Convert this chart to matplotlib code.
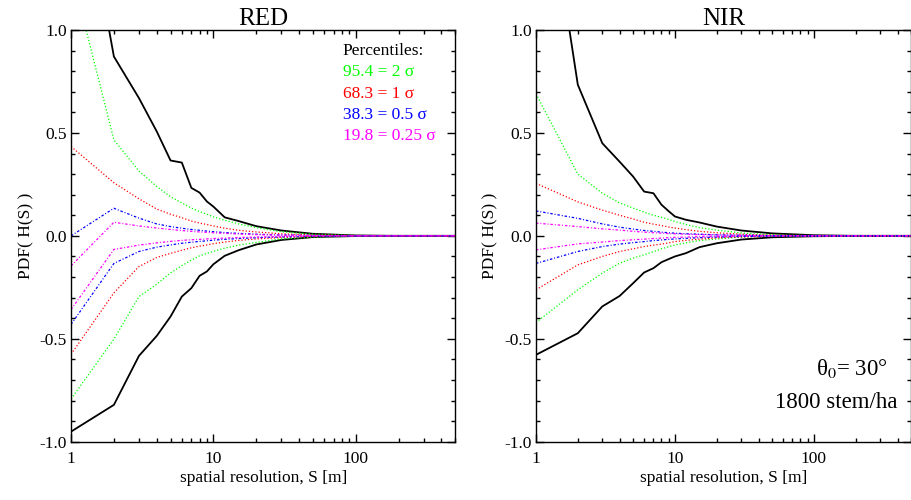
import numpy as np
import matplotlib
matplotlib.use("Agg")
import matplotlib.pyplot as plt
from matplotlib.ticker import FixedLocator, FormatStrFormatter, NullFormatter

plt.rcParams["font.family"] = ["Liberation Serif", "DejaVu Serif"]
plt.rcParams["mathtext.fontset"] = "stix"
plt.rcParams["axes.unicode_minus"] = False

# spatial resolution S [m]
S = [1, 2, 3, 4, 5, 6, 7, 8, 9, 10, 12, 15, 20, 30, 50, 100, 200, 500]

# RED panel percentile envelopes
red_black_hi = [2.02, 0.871, 0.669, 0.507, 0.366, 0.356, 0.233, 0.21, 0.167, 0.142, 0.09, 0.072, 0.047, 0.026, 0.01, 0.002, 0.0, 0.0]
red_black_lo = [-0.951, -0.821, -0.583, -0.486, -0.392, -0.295, -0.254, -0.194, -0.173, -0.138, -0.097, -0.07, -0.042, -0.02, -0.006, -0.001, 0.0, 0.0]
red_green_hi = [1.29, 0.466, 0.315, 0.24, 0.19, 0.16, 0.135, 0.118, 0.105, 0.092, 0.076, 0.058, 0.04, 0.02, 0.008, 0.002, 0.0, 0.0]
red_green_lo = [-0.792, -0.502, -0.295, -0.235, -0.18, -0.145, -0.118, -0.097, -0.085, -0.075, -0.06, -0.045, -0.032, -0.015, -0.006, -0.001, 0.0, 0.0]
red_red_hi = [0.434, 0.258, 0.18, 0.13, 0.105, 0.088, 0.072, 0.062, 0.055, 0.048, 0.037, 0.027, 0.019, 0.01, 0.004, 0.001, 0.0, 0.0]
red_red_lo = [-0.575, -0.277, -0.149, -0.105, -0.085, -0.07, -0.058, -0.05, -0.044, -0.038, -0.03, -0.022, -0.015, -0.008, -0.003, -0.001, 0.0, 0.0]
red_blue_hi = [0.0, 0.134, 0.086, 0.058, 0.045, 0.037, 0.031, 0.027, 0.023, 0.02, 0.016, 0.012, 0.008, 0.004, 0.002, 0.0, 0.0, 0.0]
red_blue_lo = [-0.43, -0.134, -0.076, -0.055, -0.044, -0.036, -0.031, -0.027, -0.024, -0.021, -0.017, -0.013, -0.009, -0.005, -0.002, 0.0, 0.0, 0.0]
red_mag_hi = [-0.146, 0.066, 0.048, 0.038, 0.031, 0.026, 0.022, 0.019, 0.017, 0.015, 0.012, 0.009, 0.006, 0.003, 0.001, 0.0, 0.0, 0.0]
red_mag_lo = [-0.358, -0.066, -0.045, -0.034, -0.027, -0.022, -0.019, -0.017, -0.015, -0.013, -0.011, -0.008, -0.006, -0.003, -0.001, 0.0, 0.0, 0.0]

# NIR panel percentile envelopes
nir_black_hi = [2.06, 0.734, 0.45, 0.36, 0.288, 0.215, 0.207, 0.151, 0.12, 0.094, 0.078, 0.065, 0.045, 0.026, 0.012, 0.003, 0.0, 0.0]
nir_black_lo = [-0.578, -0.473, -0.343, -0.292, -0.23, -0.178, -0.157, -0.128, -0.113, -0.1, -0.084, -0.055, -0.036, -0.018, -0.007, -0.002, 0.0, 0.0]
nir_green_hi = [0.69, 0.3, 0.207, 0.16, 0.135, 0.115, 0.1, 0.09, 0.08, 0.07, 0.055, 0.04, 0.028, 0.014, 0.005, 0.001, 0.0, 0.0]
nir_green_lo = [-0.421, -0.262, -0.181, -0.133, -0.108, -0.092, -0.077, -0.063, -0.053, -0.044, -0.034, -0.023, -0.015, -0.006, -0.002, 0.0, 0.0, 0.0]
nir_red_hi = [0.255, 0.165, 0.125, 0.1, 0.082, 0.066, 0.057, 0.05, 0.043, 0.038, 0.03, 0.022, 0.015, 0.008, 0.003, 0.001, 0.0, 0.0]
nir_red_lo = [-0.262, -0.141, -0.1, -0.076, -0.063, -0.052, -0.045, -0.04, -0.034, -0.028, -0.022, -0.016, -0.01, -0.005, -0.002, 0.0, 0.0, 0.0]
nir_blue_hi = [0.121, 0.085, 0.058, 0.042, 0.033, 0.026, 0.022, 0.018, 0.015, 0.013, 0.01, 0.008, 0.005, 0.003, 0.001, 0.0, 0.0, 0.0]
nir_blue_lo = [-0.134, -0.076, -0.052, -0.04, -0.033, -0.028, -0.023, -0.02, -0.017, -0.015, -0.012, -0.009, -0.006, -0.003, -0.001, 0.0, 0.0, 0.0]
nir_mag_hi = [0.062, 0.045, 0.034, 0.028, 0.022, 0.018, 0.015, 0.013, 0.011, 0.01, 0.008, 0.006, 0.004, 0.002, 0.001, 0.0, 0.0, 0.0]
nir_mag_lo = [-0.068, -0.039, -0.03, -0.023, -0.019, -0.016, -0.013, -0.011, -0.009, -0.007, -0.006, -0.004, -0.003, -0.002, 0.0, 0.0, 0.0, 0.0]

legend_lines = ["95.4 = 2 \u03c3", "68.3 = 1 \u03c3", "38.3 = 0.5 \u03c3", "19.8 = 0.25 \u03c3"]
legend_colors = ["#00ff00", "#ff0000", "#0000ff", "#ff00ff"]

panels = [
    ("RED", [red_black_hi, red_black_lo], [red_green_hi, red_green_lo], [red_red_hi, red_red_lo],
     [red_blue_hi, red_blue_lo], [red_mag_hi, red_mag_lo]),
    ("NIR", [nir_black_hi, nir_black_lo], [nir_green_hi, nir_green_lo], [nir_red_hi, nir_red_lo],
     [nir_blue_hi, nir_blue_lo], [nir_mag_hi, nir_mag_lo]),
]

fig = plt.figure(figsize=(9.12, 5.0), dpi=100)
ax_l = fig.add_axes([0.0779, 0.1166, 0.4213, 0.8234])
ax_r = fig.add_axes([0.5877, 0.1166, 0.4113, 0.8234])

dot = (0, (1.0, 1.6))
dashdot = (0, (2.0, 1.5, 0.8, 1.5))

for ax, (name, blk, grn, rd, blu, mag) in zip([ax_l, ax_r], panels):
    for y in blk:
        ax.plot(S, y, color="black", lw=1.3, ls="-")
    for y in grn:
        ax.plot(S, y, color="#00ff00", lw=0.9, ls=dot)
    for y in rd:
        ax.plot(S, y, color="#ff0000", lw=0.9, ls=dot)
    for y in blu:
        ax.plot(S, y, color="#0000ff", lw=0.9, ls=dashdot)
    for y in mag:
        ax.plot(S, y, color="#ff00ff", lw=0.9, ls=dashdot)

    ax.set_xscale("log")
    ax.set_xlim(1, 500)
    ax.set_ylim(-1.0, 1.0)
    ax.xaxis.set_major_locator(FixedLocator([1, 10, 100]))
    ax.xaxis.set_major_formatter(FormatStrFormatter("%d"))
    minors = [m * d for d in (1, 10, 100) for m in range(2, 10) if m * d <= 500]
    ax.xaxis.set_minor_locator(FixedLocator(minors))
    ax.xaxis.set_minor_formatter(NullFormatter())
    ax.yaxis.set_major_locator(FixedLocator([-1.0, -0.5, 0.0, 0.5, 1.0]))
    ax.yaxis.set_major_formatter(FormatStrFormatter("%.1f"))
    ax.yaxis.set_minor_locator(FixedLocator(np.arange(-1.0, 1.01, 0.1)))
    ax.tick_params(which="both", direction="in", top=True, right=True, labelsize=12.5, width=1.0)
    ax.tick_params(which="major", length=6)
    ax.tick_params(which="minor", length=3)
    ax.tick_params(axis="x", pad=7)
    ax.tick_params(axis="y", pad=3)
    for sp in ax.spines.values():
        sp.set_linewidth(1.0)

    ax.set_title(name, fontsize=18, pad=3)
    ax.set_xlabel("spatial resolution, S [m]", fontsize=12.5, labelpad=2)
    ax.set_ylabel("PDF( H(S) )", fontsize=12.5, labelpad=4)

# percentile legend in the RED panel
ax_l.text(0.707, 0.95, "Percentiles:", transform=ax_l.transAxes, fontsize=12.5,
          ha="left", va="center", color="black")
for i, (txt, col) in enumerate(zip(legend_lines, legend_colors)):
    ax_l.text(0.707, 0.897 - i * 0.0515, txt, transform=ax_l.transAxes, fontsize=12.5,
              ha="left", va="center", color=col)

# case description in the NIR panel
ax_r.text(0.939, 0.179, "\u03b8$_0$= 30\u00b0", transform=ax_r.transAxes, fontsize=16.5,
          ha="right", va="center")
ax_r.text(0.963, 0.096, "1800 stem/ha", transform=ax_r.transAxes, fontsize=16.5,
          ha="right", va="center")

fig.savefig("out.png", dpi=100)
